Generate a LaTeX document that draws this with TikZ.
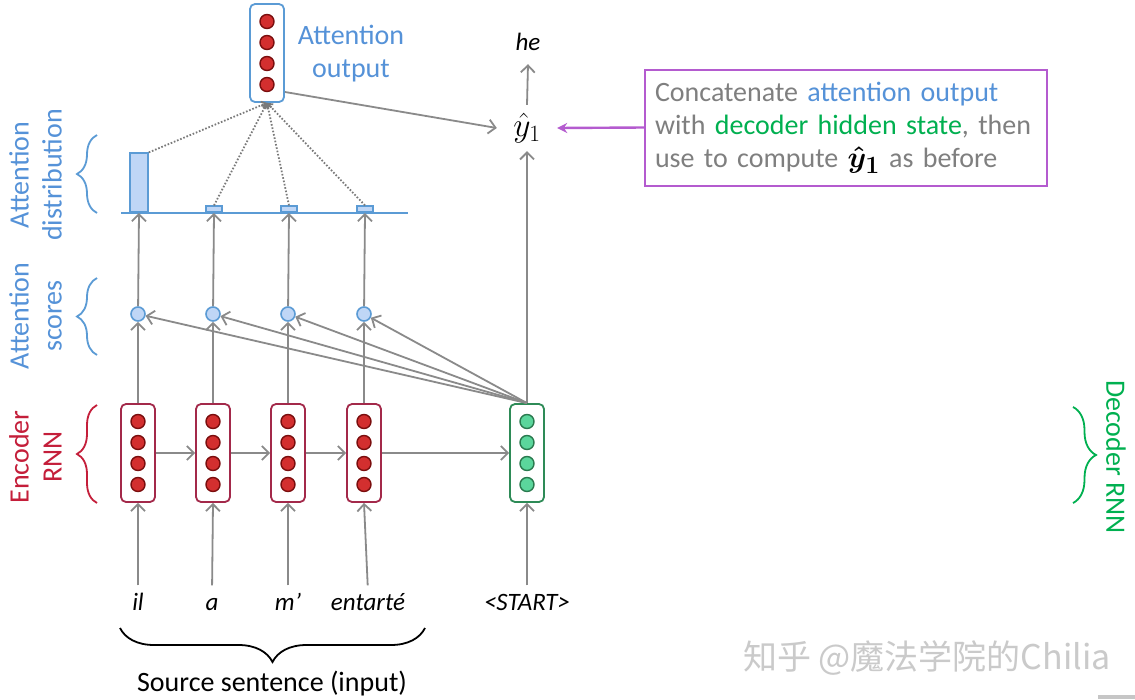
\documentclass[tikz,border=0pt]{standalone}
\usepackage{fontspec}
\usepackage{graphicx}
\setmainfont{Carlito}
\newfontfamily\cjkfont{Noto Sans CJK SC}
\usetikzlibrary{arrows.meta,decorations.pathreplacing,calc}
\definecolor{arrgray}{HTML}{8A8A8A}
\definecolor{dotgray}{HTML}{7A7A7A}
\definecolor{attblue}{HTML}{5592D8}
\definecolor{lineblue}{HTML}{5B9BD5}
\definecolor{barfill}{HTML}{BFD6F6}
\definecolor{enctext}{HTML}{C41E3A}
\definecolor{encborder}{HTML}{A3294A}
\definecolor{redfill}{HTML}{D32F2F}
\definecolor{redstroke}{HTML}{7A0E0E}
\definecolor{decgreen}{HTML}{00B050}
\definecolor{decborder}{HTML}{2E8B57}
\definecolor{greenfill}{HTML}{5BD69C}
\definecolor{greenstroke}{HTML}{2A7A4F}
\definecolor{pboxcol}{HTML}{B45BCF}
\definecolor{txtgray}{HTML}{7F7F7F}
\definecolor{wmgray}{HTML}{CACACA}
\newcommand{\fsbig}{\fontsize{28}{33}\selectfont}
\newcommand{\fsword}{\fontsize{25}{30}\selectfont}
\begin{document}
\begin{tikzpicture}[x=1pt,y=-1pt,
  arr/.style={draw=arrgray, line width=1.8pt, -{Straight Barb[length=7pt,width=14pt]}},
  dotarr/.style={draw=dotgray, line width=1.8pt, dash pattern=on 1.6pt off 1.8pt, -{Straight Barb[length=4pt,width=7pt]}},
  cellbox/.style={draw=#1, line width=1.8pt, rounded corners=5pt, minimum width=34pt, minimum height=98pt, fill=white, inner sep=0pt},
  unit/.style 2 args={circle, draw=#2, fill=#1, line width=1.4pt, minimum size=14pt, inner sep=0pt},
  scorec/.style={circle, draw=lineblue, fill=barfill, line width=1.6pt, minimum size=14pt, inner sep=0pt},
  barbox/.style={draw=lineblue, fill=barfill, line width=1.6pt, anchor=south, inner sep=0pt},
  bracedec/.style={decorate, decoration={brace, amplitude=#1}, line width=1.8pt},
  word/.style={font=\fsword\itshape, text height=18pt, text depth=5pt, inner sep=0pt},
  sidelab/.style={font=\fsbig, align=center, inner sep=0pt}
]
\useasboundingbox (0,0) rectangle (1135,699);
\fill[white] (0,0) rectangle (1135,699);

% encoder cells
\foreach \i/\x in {1/138,2/213,3/288,4/364}{
  \node[cellbox=encborder] (e\i) at (\x,453) {};
  \foreach \j/\dy in {a/-31.5,b/-10.5,c/10.5,d/31.5}
    \node[unit={redfill}{redstroke}] (e\i\j) at (\x,453+\dy) {};
}
% decoder cell
\node[cellbox=decborder] (d) at (527,453) {};
\foreach \j/\dy in {a/-31.5,b/-10.5,c/10.5,d/31.5}
  \node[unit={greenfill}{greenstroke}] (d\j) at (527,453+\dy) {};

% attention output box
\node[cellbox=lineblue] (ao) at (267,53) {};
\foreach \j/\dy in {a/-31.5,b/-10.5,c/10.5,d/31.5}
  \node[unit={redfill}{redstroke}] (ao\j) at (267,53+\dy) {};
\node[font=\fsbig, text=attblue, align=center] (aolab) at (351,54) {Attention\\output};

% score circles
\foreach \i/\x in {1/138,2/213,3/288,4/364}
  \node[scorec] (s\i) at (\x,314) {};

% attention distribution
\coordinate (bl0) at (121,213);
\coordinate (bl1) at (408,213);
\draw[draw=lineblue, line width=1.8pt] (bl0) -- (bl1);
\node[barbox, minimum width=18pt, minimum height=59pt] (b1) at (139,213) {};
\node[barbox, minimum width=16pt, minimum height=6pt] (b2) at (214,213) {};
\node[barbox, minimum width=16pt, minimum height=6pt] (b3) at (289,213) {};
\node[barbox, minimum width=16pt, minimum height=6pt] (b4) at (365,213) {};

% dotted lines to attention output
\draw[dotarr] (b1.north east) -- (ao.south);
\foreach \i in {2,3,4} \draw[dotarr] (b\i.north) -- (ao.south);

% words
\node[word] (w1) at (138,604) {il};
\node[word] (w2) at (212,604) {a};
\node[word] (w3) at (288,604) {m’};
\node[word] (w4) at (368,604) {entarté};
\node[word] (w5) at (527,604) {<START>};

% vertical arrows
\foreach \i in {1,2,3,4}{
  \draw[arr, shorten <=7pt] (w\i.north) -- (e\i.south);
  \draw[arr] (e\i.north) -- (s\i);
  \draw[arr] (s\i) -- (b\i.south);
  \draw[arr] (d.north) -- (s\i);
}
\draw[arr, shorten <=7pt] (w5.north) -- (d.south);
% horizontal arrows
\draw[arr] (e1.east) -- (e2.west);
\draw[arr] (e2.east) -- (e3.west);
\draw[arr] (e3.east) -- (e4.west);
\draw[arr] (e4.east) -- (d.west);

% output
\node[font=\fontsize{25}{30}\selectfont, minimum width=60pt, minimum height=46pt, inner sep=0pt] (yh) at (527,128) {\scalebox{1.35}{$\hat{y}_1$}};
\node[font=\fsword\itshape, minimum height=44pt, inner sep=0pt] (he) at (528,42) {he};
\draw[arr] (d.north) -- (yh.south);
\draw[arr] (yh.north) -- (he.south);
\coordinate (aoout) at (285,92);
\draw[arr] (aoout) -- (yh.west);

% purple box
\node[draw=pboxcol, line width=2pt, font=\fsbig, text=txtgray, align=left, text width=382pt, minimum width=402pt, minimum height=116pt, inner xsep=10pt] (pb) at (846,127.5)
 {Concatenate \textcolor{attblue}{attention output}\\
  with \textcolor{decgreen}{decoder hidden state}, then\\
  use to compute \textcolor{black}{\raisebox{0pt}[0pt][0pt]{\scalebox{1.2}{\boldmath$\hat{y}_1$}}} as before};
\draw[draw=pboxcol, line width=2.4pt, -{Stealth[length=10pt,width=10pt]}] (pb.west) -- (yh.east);

% left labels and braces
\node[sidelab, text=attblue, rotate=90] (ldist) at (35.5,175) {Attention\\distribution};
\node[sidelab, text=attblue, rotate=90] (lscore) at (35.5,316) {Attention\\scores};
\node[sidelab, text=enctext, rotate=90] (lenc) at (35.5,457) {Encoder\\RNN};
\coordinate (bd0) at (97,213); \coordinate (bd1) at (97,135);
\coordinate (bs0) at (97,355); \coordinate (bs1) at (97,278);
\coordinate (be0) at (97,503); \coordinate (be1) at (97,405);
\draw[bracedec=20pt, draw=lineblue] (bd0) -- (bd1);
\draw[bracedec=20pt, draw=lineblue] (bs0) -- (bs1);
\draw[bracedec=20pt, draw=enctext] (be0) -- (be1);

% decoder label
\node[sidelab, text=decgreen, rotate=-90] (ldec) at (1116,457) {Decoder RNN};
\coordinate (bdec0) at (1073,407); \coordinate (bdec1) at (1073,503);
\draw[bracedec=23pt, draw=decgreen] (bdec0) -- (bdec1);

% source brace
\coordinate (src0) at (425,628); \coordinate (src1) at (120,628);
\draw[bracedec=34pt, draw=black] (src0) -- (src1);
\node[font=\fsbig] (srclab) at (272,684) {Source sentence (input)};

% watermark
\node[font=\cjkfont\fontsize{34}{34}\selectfont, text=wmgray, anchor=west, inner sep=0pt] (wm) at (743,658) {知乎 @魔法学院的Chilia};
\fill[gray!45] (1098,695) rectangle (1135,699);
\end{tikzpicture}
\end{document}
